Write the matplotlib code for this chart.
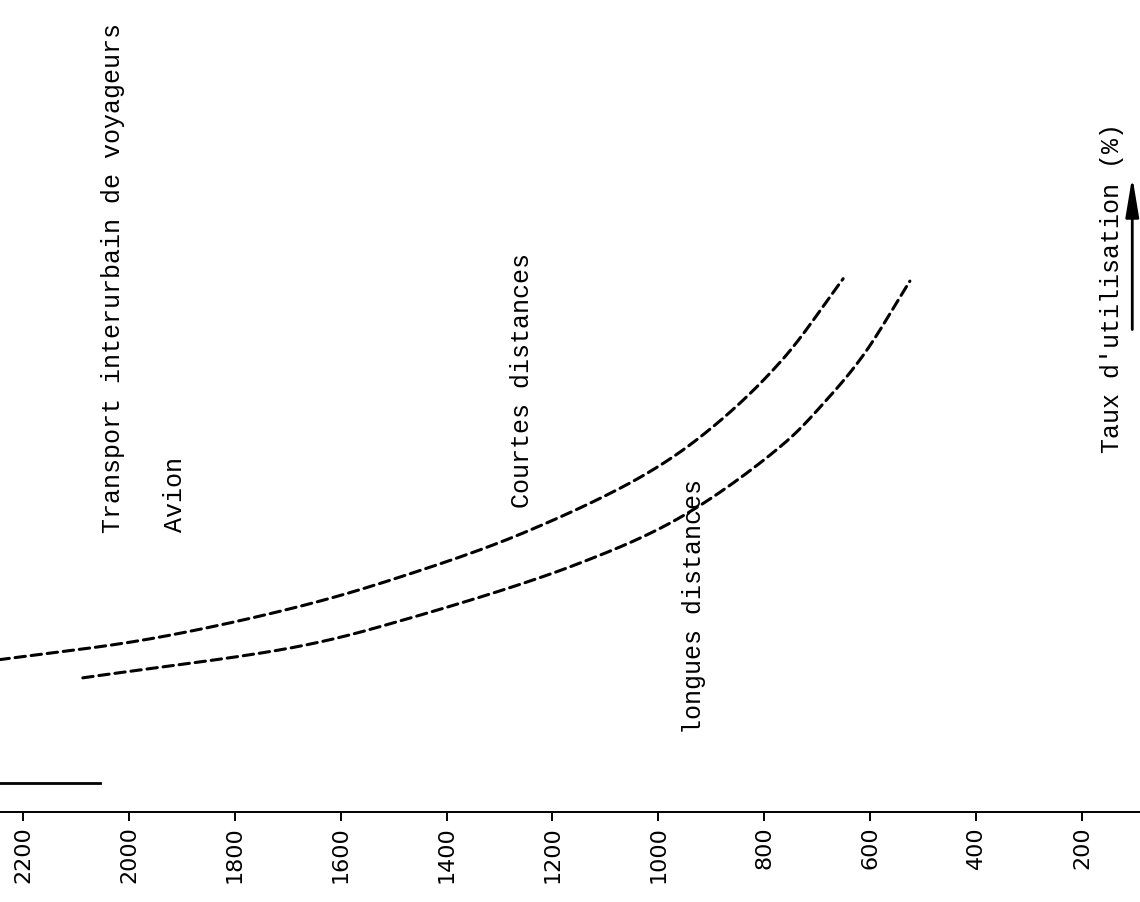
import matplotlib
matplotlib.use('Agg')
import numpy as np
import matplotlib.pyplot as plt

# --- data -------------------------------------------------------------
# x axis (values decrease to the right)
xticks = [2200, 2000, 1800, 1600, 1400, 1200, 1000, 800, 600, 400, 200]

# "Courtes distances" curve (upper / left one)
courtes_x = [2260, 1960, 1677, 1488, 1256, 1023, 893, 765, 651]
courtes_y = [18.6, 21.3, 25.3, 28.9, 34.3, 41.6, 47.6, 55.7, 65.6]

# "longues distances" curve (lower / right one)
longues_x = [2087, 1677, 1488, 1157, 957, 765, 689, 614, 525]
longues_y = [16.5, 20.4, 23.5, 30.4, 36.3, 45.2, 50.2, 56.1, 65.3]

# short solid stroke near the axis at the left
stroke_x = [2260, 2055]
stroke_y = [3.6, 3.6]


def smooth(xs, ys, ax, n=25):
    # centripetal catmull-rom through the read points (in screen space),
    # only used to draw a smooth stroke
    pts = ax.transData.transform(np.column_stack([xs, ys]))
    p = np.vstack([2 * pts[0] - pts[1], pts, 2 * pts[-1] - pts[-2]])
    out = []
    for i in range(1, len(p) - 2):
        p0, p1, p2, p3 = p[i - 1], p[i], p[i + 1], p[i + 2]
        t0 = 0.0
        t1 = t0 + np.linalg.norm(p1 - p0) ** 0.5
        t2 = t1 + np.linalg.norm(p2 - p1) ** 0.5
        t3 = t2 + np.linalg.norm(p3 - p2) ** 0.5
        t = np.linspace(t1, t2, n, endpoint=False)[:, None]
        a1 = (t1 - t) / (t1 - t0) * p0 + (t - t0) / (t1 - t0) * p1
        a2 = (t2 - t) / (t2 - t1) * p1 + (t - t1) / (t2 - t1) * p2
        a3 = (t3 - t) / (t3 - t2) * p2 + (t - t2) / (t3 - t2) * p3
        b1 = (t2 - t) / (t2 - t0) * a1 + (t - t0) / (t2 - t0) * a2
        b2 = (t3 - t) / (t3 - t1) * a2 + (t - t1) / (t3 - t1) * a3
        out.append((t2 - t) / (t2 - t1) * b1 + (t - t1) / (t2 - t1) * b2)
    out.append(p[-2][None, :])
    out = ax.transData.inverted().transform(np.vstack(out))
    return out[:, 0], out[:, 1]


# --- figure -----------------------------------------------------------
fig = plt.figure(figsize=(11.4, 9.03), dpi=100)
ax = fig.add_axes([0, 0, 1, 1])
ax.set_xlim(2243.4, 90.4)
ax.set_ylim(-11.07, 100)

mono = 'Liberation Mono'

cx, cy = smooth(courtes_x, courtes_y, ax)
lx, ly = smooth(longues_x, longues_y, ax)
ax.plot(cx, cy, color='black', lw=2.2, dashes=(3.4, 1.9), dash_capstyle='round')
ax.plot(lx, ly, color='black', lw=2.2, dashes=(3.4, 1.9), dash_capstyle='round')
ax.plot(stroke_x, stroke_y, color='black', lw=2.0)

# axis line with ticks
for s in ['top', 'left', 'right']:
    ax.spines[s].set_visible(False)
ax.spines['bottom'].set_position(('data', 0))
ax.spines['bottom'].set_linewidth(1.4)
ax.set_yticks([])
ax.set_xticks(xticks)
ax.set_xticklabels([str(v) for v in xticks], rotation=90,
                   fontsize=16, family='DejaVu Sans')
ax.tick_params(axis='x', direction='out', length=6.5, width=1.4, pad=3)

# texts
ax.text(2030, 34.4, "Transport interurbain de voyageurs", rotation=90,
        ha='center', va='bottom', fontsize=18, family=mono)
ax.text(1913, 34.6, "Avion", rotation=90,
        ha='center', va='bottom', fontsize=18, family=mono)
ax.text(1257, 37.5, "Courtes distances", rotation=90,
        ha='center', va='bottom', fontsize=18, family=mono)
ax.text(933, 9.7, "longues distances", rotation=90,
        ha='center', va='bottom', fontsize=18, family=mono)
ax.text(143, 44.3, "Taux d'utilisation (%)", rotation=90,
        ha='center', va='bottom', fontsize=18, family=mono)

# arrow next to the rate label
ax.annotate('', xy=(105, 78.5), xytext=(105, 59.0),
            arrowprops=dict(arrowstyle='-|>,head_length=1.2,head_width=0.2',
                            mutation_scale=20, color='black', lw=2))

fig.savefig('out.png', dpi=100)
